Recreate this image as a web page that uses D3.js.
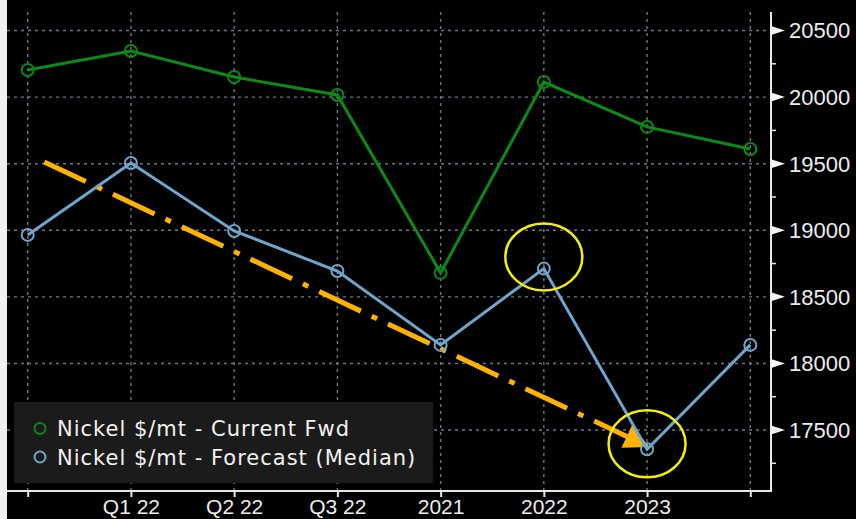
<!DOCTYPE html>
<html>
<head>
<meta charset="utf-8">
<script src="https://cdn.jsdelivr.net/npm/d3@7"></script>
<style>
  html, body { margin: 0; padding: 0; background: #000; }
  svg { display: block; }
</style>
</head>
<body>
<div id="chart"></div>
<script>
// ---- data ----
const categories = ["", "Q1 22", "Q2 22", "Q3 22", "2021", "2022", "2023", ""];
const currentFwd = [20203, 20346, 20151, 20016, 18680, 20113, 19776, 19610];
const forecastMedian = [18965, 19505, 18995, 18694, 18139, 18712, 17356, 18139];
const yMajorTicks = [17500, 18000, 18500, 19000, 19500, 20000, 20500];
const yMinorTicks = [17250, 17750, 18250, 18750, 19250, 19750, 20250];
const seriesNames = ["Nickel $/mt - Current Fwd", "Nickel $/mt - Forecast (Median)"];
const seriesColors = ["#0c8a18", "#6fa6cc"];
// annotations (category index, value)
const trendArrow = [[0.16, 19513], [6, 17380]];
const highlights = [[5, 18800], [6, 17396]];

const W = 856, H = 519;
const svg = d3.select("#chart").append("svg").attr("width", W).attr("height", H);

svg.append("rect").attr("width", W).attr("height", H).attr("fill", "#000");
svg.append("rect").attr("x", 0).attr("y", 0).attr("width", 7).attr("height", H).attr("fill", "#f0f0f0");

const plotLeft = 7, plotRight = 771, plotTop = 12, plotBottom = 491;

const x = d3.scaleLinear().domain([0, categories.length - 1]).range([27.7, 750.3]);
const y = d3.scaleLinear().domain([17042, 20639]).range([plotBottom, plotTop]);

const gridColor = "#6c7785";
// horizontal grid
svg.append("g").selectAll("line").data(yMajorTicks).join("line")
  .attr("x1", plotLeft).attr("x2", plotRight)
  .attr("y1", d => y(d)).attr("y2", d => y(d))
  .attr("stroke", gridColor).attr("stroke-width", 1.4).attr("stroke-dasharray", "3,4");
// vertical grid
svg.append("g").selectAll("line").data(d3.range(categories.length)).join("line")
  .attr("x1", d => x(d)).attr("x2", d => x(d))
  .attr("y1", plotTop).attr("y2", plotBottom)
  .attr("stroke", gridColor).attr("stroke-width", 1.4).attr("stroke-dasharray", "3,4");

// x axis
const xAxis = d3.axisBottom(x).tickValues(d3.range(categories.length))
  .tickFormat(i => categories[i]).tickSize(6).tickPadding(2);
const gx = svg.append("g").attr("transform", `translate(0,${plotBottom})`).call(xAxis);
gx.select(".domain").attr("d", `M${plotLeft},0H${plotRight}`).attr("stroke", "#e8e8e8").attr("stroke-width", 2);
gx.selectAll(".tick line").attr("stroke", "#e8e8e8").attr("stroke-width", 2);
gx.selectAll(".tick text").attr("fill", "#ececec")
  .style("font-family", "'Liberation Sans', Arial, sans-serif").style("font-size", "21px");

// y axis (right)
const gy = svg.append("g").attr("transform", `translate(${plotRight},0)`);
gy.append("line").attr("x1", 0).attr("x2", 0).attr("y1", plotTop).attr("y2", plotBottom + 1)
  .attr("stroke", "#e8e8e8").attr("stroke-width", 2);
gy.selectAll(".minor").data(yMinorTicks).join("line").attr("class", "minor")
  .attr("x1", 0).attr("x2", 5).attr("y1", d => y(d)).attr("y2", d => y(d))
  .attr("stroke", "#e8e8e8").attr("stroke-width", 1.5);
gy.selectAll(".major").data(yMajorTicks).join("path").attr("class", "major")
  .attr("d", d => `M0,${y(d) - 4.5}L14,${y(d)}L0,${y(d) + 4.5}Z`)
  .attr("fill", "#f4f4f4");
gy.selectAll(".lbl").data(yMajorTicks).join("text").attr("class", "lbl")
  .attr("x", 18).attr("y", d => y(d)).attr("dy", "0.36em")
  .attr("fill", "#ececec")
  .style("font-family", "'Liberation Sans', Arial, sans-serif").style("font-size", "22px")
  .text(d => d);

// annotations: arrow
const defs = svg.append("defs");
defs.append("marker").attr("id", "arrowhead")
  .attr("viewBox", "0 0 10 10").attr("refX", 9).attr("refY", 5)
  .attr("markerWidth", 5).attr("markerHeight", 5).attr("orient", "auto")
  .attr("markerUnits", "strokeWidth")
  .append("path").attr("d", "M0,0L10,5L0,10Z").attr("fill", "#ffb300");

svg.append("line")
  .attr("x1", x(trendArrow[0][0])).attr("y1", y(trendArrow[0][1]))
  .attr("x2", x(trendArrow[1][0])).attr("y2", y(trendArrow[1][1]))
  .attr("stroke", "#ffb300").attr("stroke-width", 5)
  .attr("stroke-dasharray", "46,12,6,12")
  .attr("marker-end", "url(#arrowhead)");

// series lines
const line = d3.line().x((d, i) => x(i)).y(d => y(d));
[currentFwd, forecastMedian].forEach((s, k) => {
  svg.append("path").datum(s).attr("d", line).attr("fill", "none")
    .attr("stroke", seriesColors[k]).attr("stroke-width", 3);
  svg.append("g").selectAll("circle").data(s).join("circle")
    .attr("cx", (d, i) => x(i)).attr("cy", d => y(d)).attr("r", 6)
    .attr("fill", "none").attr("stroke", seriesColors[k]).attr("stroke-width", 2);
});

// highlight ellipses
svg.append("g").selectAll("ellipse").data(highlights).join("ellipse")
  .attr("cx", d => x(d[0])).attr("cy", d => y(d[1]))
  .attr("rx", 38.5).attr("ry", 33.5)
  .attr("fill", "none").attr("stroke", "#f6f000").attr("stroke-width", 2.5);

// legend
const lg = svg.append("g");
lg.append("rect").attr("x", 14).attr("y", 402).attr("width", 419).attr("height", 81)
  .attr("fill", "#1b1b1b");
seriesNames.forEach((name, k) => {
  const cy = 428.5 + k * 28.5;
  lg.append("circle").attr("cx", 40).attr("cy", cy).attr("r", 5.5)
    .attr("fill", "none").attr("stroke", seriesColors[k]).attr("stroke-width", 2);
  lg.append("text").attr("x", 57).attr("y", cy).attr("dy", "0.36em")
    .attr("fill", "#f2f2f2")
    .style("font-family", "'DejaVu Sans', Verdana, sans-serif").style("font-size", "21px")
    .style("letter-spacing", "1px")
    .text(name);
});
</script>
</body>
</html>
